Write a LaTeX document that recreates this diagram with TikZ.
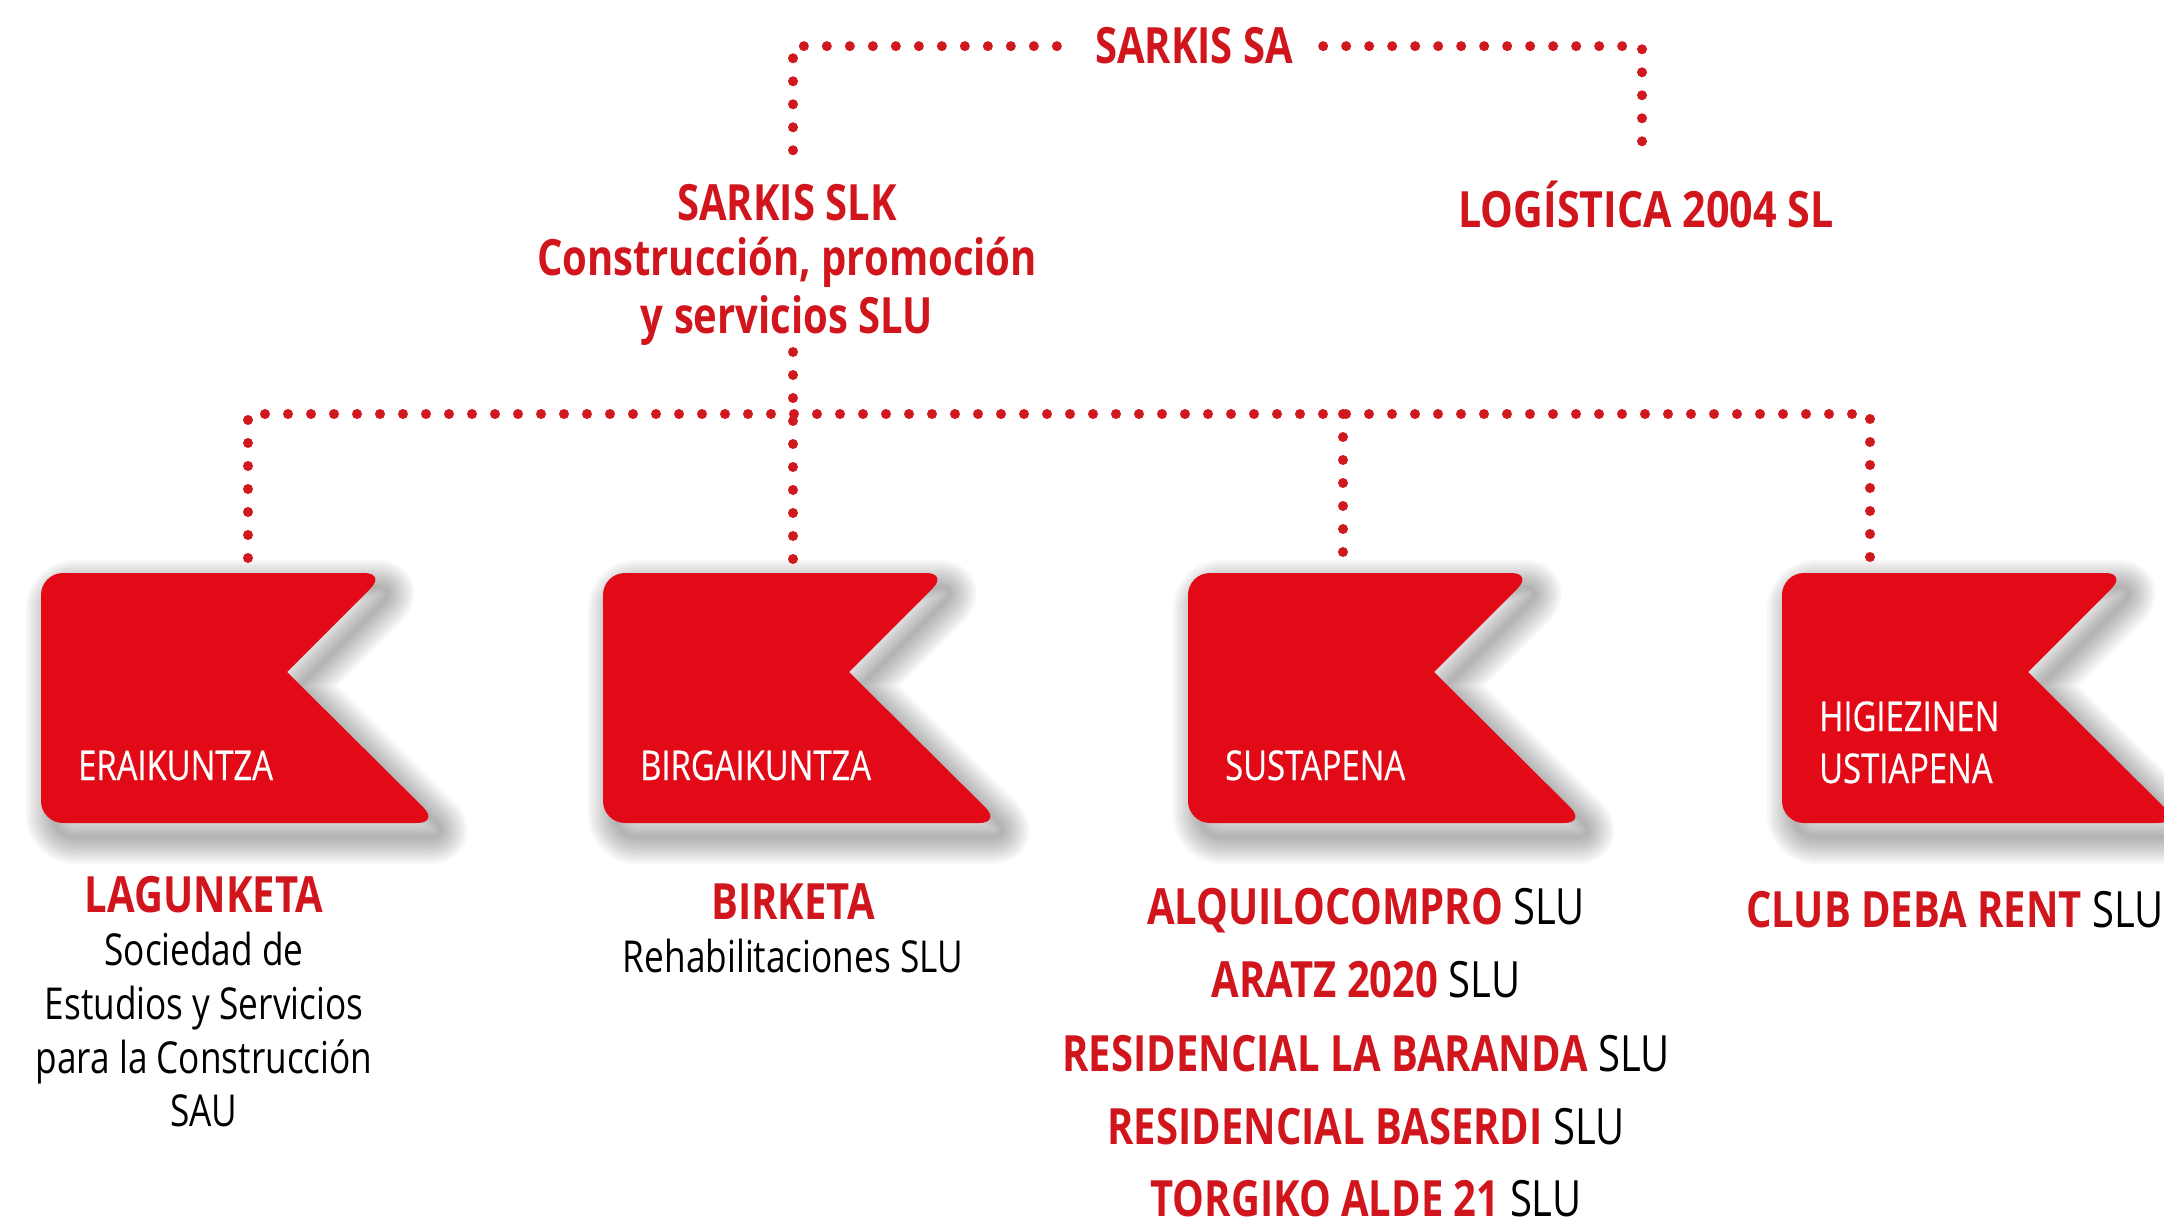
\documentclass[tikz,border=0pt]{standalone}
\usepackage{fontspec}
\setmainfont{Open Sans}[FakeStretch=0.8]
\newfontfamily\labelfont{Open Sans}[FakeStretch=0.8, FakeBold=0.5]
\definecolor{flagred}{HTML}{E20A16}
\definecolor{txtred}{HTML}{D0151D}
\definecolor{dotred}{HTML}{D0181F}
\tikzset{
  dots/.style={dotred, line width=10pt, line cap=round, dash pattern=on 0pt off 23pt},
  title/.style={txtred, font=\fontsize{50}{55}\selectfont\bfseries, inner sep=0pt, anchor=base},
  sub/.style={black, font=\fontsize{44}{54}\selectfont, inner sep=0pt, anchor=base},
  listrow/.style={black, font=\fontsize{50}{55}\selectfont, inner sep=0pt, anchor=base},
  flaglabel/.style={white, font=\labelfont\fontsize{41}{52}\selectfont, inner sep=0pt, anchor=base west},
  flagshape/.style={insert path={(0,0) [rounded corners=22pt] -- (345,0) [sharp corners] -- (246,99) [rounded corners=22pt] -- (398,250) -- (0,250) -- cycle}},
}
\newcommand\redname[1]{{\color{txtred}\bfseries #1}}
\newcommand\myflag[2]{%
  \begin{scope}[shift={(#1,573)}]
    \foreach \w in {4,9,14,19,24,29,34,39,44,49,54} {
      \draw[black, opacity=0.03, line width=\w pt, line join=round, shift={(12,14)}, flagshape];
    }
    \fill[flagred, flagshape];
    \node[inner sep=0pt, minimum width=398pt, minimum height=250pt, anchor=north west] (#2) at (0,0) {};
  \end{scope}}
\begin{document}
\begin{tikzpicture}[x=1pt,y=-1pt]
\useasboundingbox (0,0) rectangle (2164,1225);

% top
\node[title] (sa) at (1194,64) {SARKIS SA};
\node[title] (slk1) at (787,221) {SARKIS SLK};
\node[title] (slk2) at (787,276) {Construcción, promoción};
\node[title] (slk3) at (787,333) {y servicios SLU};
\node[title, xscale=1.03] (log) at (1646,228) {LOGÍSTICA 2004 SL};

\coordinate (slkdrop) at (793,157);
\coordinate (logdrop) at (1642,160);
\draw[dots, shorten <=38pt] (sa.west) -| (slkdrop);
\draw[dots, shorten <=30pt] (sa.east) -| (logdrop);

% flags
\myflag{41}{f1}
\myflag{603}{f2}
\myflag{1188}{f3}
\myflag{1782}{f4}

\node[flaglabel] (l1) at (78,780) {ERAIKUNTZA};
\node[flaglabel] (l2) at (640,780) {BIRGAIKUNTZA};
\node[flaglabel] (l3) at (1225,780) {SUSTAPENA};
\node[flaglabel] (l4a) at (1819,731) {HIGIEZINEN};
\node[flaglabel] (l4b) at (1819,783) {USTIAPENA};

% connectors
\coordinate (slkbot) at (793,352);
\coordinate (d1) at (248,558);
\coordinate (d2) at (793,565);
\coordinate (d3) at (1343,566);
\coordinate (d4) at (1870,558);
\coordinate (busL) at (248,414);
\coordinate (busR) at (1870,414);
\draw[dots] (slkbot) -- (d2);
\draw[dots] (d1) -- (busL) -- (busR) -- (d4);
\draw[dots] (d3 |- busL) -- (d3);

% below flags
\node[title] (lag) at (204,912) {LAGUNKETA};
\node[sub] (lag1) at (204,965) {Sociedad de};
\node[sub] (lag2) at (204,1019) {Estudios y Servicios};
\node[sub] (lag3) at (204,1073) {para la Construcción};
\node[sub] (lag4) at (204,1126) {SAU};

\node[title] (bir) at (793,919) {BIRKETA};
\node[sub] (bir1) at (793,972) {Rehabilitaciones SLU};

\node[listrow] (r1) at (1366,924) {\redname{ALQUILOCOMPRO} SLU};
\node[listrow] (r2) at (1366,997) {\redname{ARATZ 2020} SLU};
\node[listrow] (r3) at (1366,1071) {\redname{RESIDENCIAL LA BARANDA} SLU};
\node[listrow] (r4) at (1366,1144) {\redname{RESIDENCIAL BASERDI} SLU};
\node[listrow] (r5) at (1366,1216) {\redname{TORGIKO ALDE 21} SLU};

\node[listrow, anchor=base west] (club) at (1746,927) {\redname{CLUB DEBA RENT} SLU};
\end{tikzpicture}
\end{document}
